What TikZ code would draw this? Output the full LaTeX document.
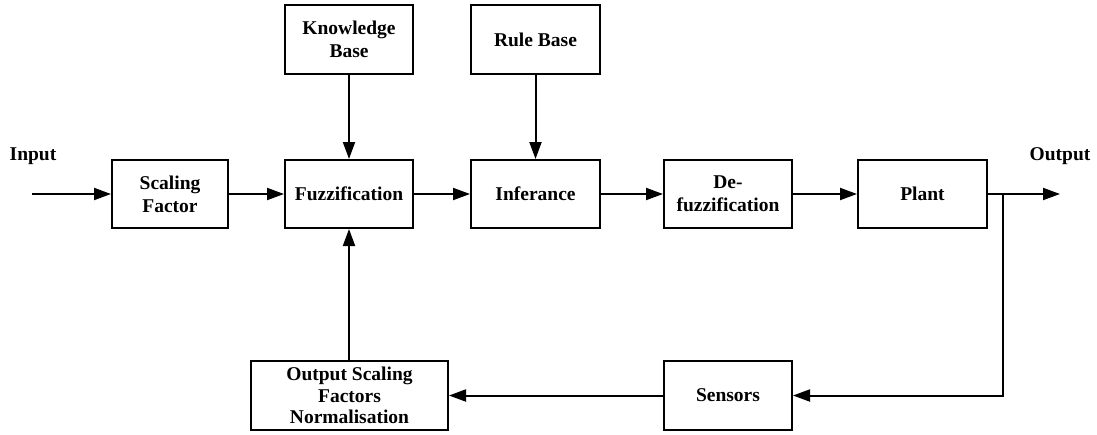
\documentclass[tikz,border=0pt]{standalone}
\usepackage{fontspec}
\setmainfont{Liberation Serif}
\usetikzlibrary{arrows.meta,positioning}
\begin{document}
\begin{tikzpicture}[x=1pt,y=-1pt,
  blk/.style={draw,line width=2pt,inner sep=0pt,align=center,
    font=\fontsize{19.5}{23}\selectfont\bfseries,minimum height=68pt},
  lbl/.style={inner sep=0pt,font=\fontsize{19.5}{23}\selectfont\bfseries},
  conn/.style={line width=2pt,-{Triangle[length=17pt,width=12pt]}}]
\useasboundingbox (0,0) rectangle (1097,434);
\node[blk,minimum width=128pt,minimum height=69pt] (kb) at (349,39.5) {Knowledge\\Base};
\node[blk,minimum width=129pt,minimum height=69pt] (rb) at (535.5,39.5) {Rule Base};
\node[blk,minimum width=116pt] (sf) at (170,194) {Scaling\\Factor};
\node[blk,minimum width=128pt] (fz) at (349,194) {Fuzzification};
\node[blk,minimum width=129pt] (inf) at (535.5,194) {Inferance};
\node[blk,minimum width=128pt] (dz) at (728,194) {De-\\fuzzification};
\node[blk,minimum width=129pt] (pl) at (922.5,194) {Plant};
\node[blk,minimum width=197pt,minimum height=69pt,font=\fontsize{19.5}{21.5}\selectfont\bfseries] (os) at (349.5,395.5) {Output Scaling\\Factors\\Normalisation};
\node[blk,minimum width=128pt,minimum height=69pt] (sen) at (728,395.5) {Sensors};
\node[lbl] (in) at (33,156) {Input};
\node[lbl] (out) at (1060,156) {Output};
\coordinate (start) at (32,194);
\coordinate (end) at (1060,194);
\coordinate (br) at (1003,194);
\draw[conn] (start) -- (sf);
\draw[conn] (sf) -- (fz);
\draw[conn] (fz) -- (inf);
\draw[conn] (inf) -- (dz);
\draw[conn] (dz) -- (pl);
\draw[conn] (pl) -- (end);
\draw[conn] (kb) -- (fz);
\draw[conn] (rb) -- (inf);
\draw[conn] (br) |- (sen.east);
\draw[conn] (sen) -- (os);
\draw[conn] (os.north -| fz) -- (fz);
\end{tikzpicture}
\end{document}
